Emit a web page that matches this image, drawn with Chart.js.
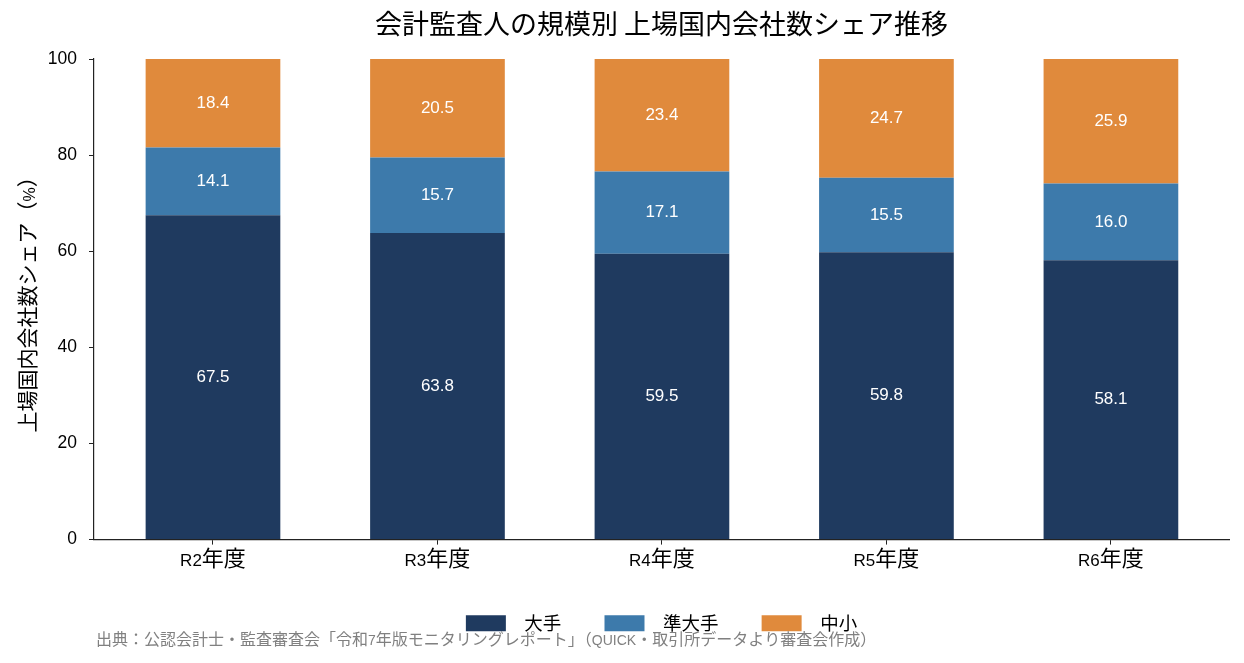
<!DOCTYPE html>
<html>
<head>
<meta charset="utf-8">
<script src="https://cdn.jsdelivr.net/npm/chart.js@4"></script>
<style>
  html, body { margin: 0; padding: 0; background: #fff; }
  #wrap { width: 1244px; height: 663px; position: relative; }
</style>
</head>
<body>
<div id="wrap"><canvas id="shareChart"></canvas></div>
<script>
const categories = ['R2年度', 'R3年度', 'R4年度', 'R5年度', 'R6年度'];
const seriesNames = ['大手', '準大手', '中小'];
const ootePct = [67.5, 63.8, 59.5, 59.8, 58.1];
const junOotePct = [14.1, 15.7, 17.1, 15.5, 16.0];
const chushoPct = [18.4, 20.5, 23.4, 24.7, 25.9];
const yTicks = [0, 20, 40, 60, 80, 100];
const sourceNote = '出典：公認会計士・監査審査会「令和7年版モニタリングレポート」（QUICK・取引所データより審査会作成）';

const FONT = "'Liberation Sans', Arial, 'Noto Sans CJK JP', sans-serif";
const CJK_FONT = "'Noto Sans CJK JP', sans-serif";
const COLORS = ['#1f3a5f', '#3d7aab', '#e08a3c'];
const LEGEND_PAD = 20;

// in the reference the Japanese glyphs come out bigger than the latin ones
// in the same label, so mixed strings get drawn run by run.
// latin px size -> japanese px size
const CJK_SIZE = { 17: 22, 16: 21, 14: 16 };

const canvas = document.getElementById('shareChart');
const rawCtx = canvas.getContext('2d');
const origFill = rawCtx.fillText.bind(rawCtx);
const origMeasure = rawCtx.measureText.bind(rawCtx);

function mixedRuns(text) {
  text = String(text);
  if (!/[^\x00-\x7f]/.test(text)) return null;
  const m = /(\d+(?:\.\d+)?)px/.exec(rawCtx.font);
  const size = m ? parseFloat(m[1]) : 0;
  if (!CJK_SIZE[size]) return null;
  const base = rawCtx.font;
  const cjk = base.replace(/\d+(?:\.\d+)?px.*$/, CJK_SIZE[size] + 'px ' + CJK_FONT);
  const runs = (text.match(/[\x00-\x7f]+|[^\x00-\x7f]+/g) || []).map(t => {
    const font = /[^\x00-\x7f]/.test(t) ? cjk : base;
    rawCtx.font = font;
    const w = origMeasure(t).width;
    return { t, font, w };
  });
  rawCtx.font = base;
  return { runs, base, size, width: runs.reduce((s, r) => s + r.w, 0) };
}

rawCtx.fillText = function (text, x, y, maxWidth) {
  const mr = mixedRuns(text);
  if (!mr) return maxWidth === undefined ? origFill(text, x, y) : origFill(text, x, y, maxWidth);
  const align = rawCtx.textAlign, baseline = rawCtx.textBaseline;
  rawCtx.textBaseline = 'alphabetic';
  const fm = origMeasure('M');
  const A = fm.fontBoundingBoxAscent, D = fm.fontBoundingBoxDescent;
  let ya = y;
  if (baseline === 'middle') ya = y + (A - D) / 2;
  else if (baseline === 'top' || baseline === 'hanging') ya = y + A;
  else if (baseline === 'bottom' || baseline === 'ideographic') ya = y - D;
  let xs = x;
  if (align === 'center') xs = x - mr.width / 2;
  else if (align === 'right' || align === 'end') xs = x - mr.width;
  rawCtx.textAlign = 'left';
  mr.runs.forEach(r => {
    rawCtx.font = r.font;
    origFill(r.t, xs, ya);
    xs += r.w;
  });
  rawCtx.font = mr.base;
  rawCtx.textAlign = align;
  rawCtx.textBaseline = baseline;
};
rawCtx.measureText = function (text) {
  const mr = mixedRuns(text);
  if (!mr) return origMeasure(text);
  return { width: mr.width, actualBoundingBoxAscent: mr.size, actualBoundingBoxDescent: 0 };
};

function toPoints(arr) {
  return arr.map((v, i) => ({ x: i, y: v }));
}

// title and legend sit centred over the plot area, not the whole canvas
const centreOnPlot = {
  id: 'centreOnPlot',
  afterLayout(chart) {
    const mid = (chart.chartArea.left + chart.chartArea.right) / 2;
    const t = chart.titleBlock;
    if (t) {
      const dx = mid - (t.left + t.right) / 2;
      t.left += dx; t.right += dx;
    }
    const lg = chart.legend;
    if (lg) {
      const dx = mid - (lg.left + lg.right) / 2;
      lg.left += dx; lg.right += dx;
    }
  }
};

const segmentLabels = {
  id: 'segmentLabels',
  afterDatasetsDraw(chart) {
    const ctx = chart.ctx;
    ctx.save();
    ctx.fillStyle = '#ffffff';
    ctx.font = '17px ' + FONT;
    ctx.textAlign = 'center';
    ctx.textBaseline = 'middle';
    chart.data.datasets.forEach((ds, di) => {
      chart.getDatasetMeta(di).data.forEach((bar, i) => {
        const v = ds.data[i].y;
        ctx.fillText(v.toFixed(1), bar.x, (bar.y + bar.base) / 2);
      });
    });
    ctx.restore();
  }
};

const sourceText = {
  id: 'sourceText',
  afterDraw(chart) {
    const ctx = chart.ctx;
    ctx.save();
    ctx.fillStyle = '#808080';
    ctx.font = '14px ' + FONT;
    ctx.textAlign = 'left';
    ctx.textBaseline = 'middle';
    ctx.fillText(sourceNote, 96, 640);
    ctx.restore();
  }
};

const datasets = [ootePct, junOotePct, chushoPct].map((arr, k) => ({
  label: seriesNames[k],
  data: toPoints(arr),
  backgroundColor: COLORS[k],
  borderWidth: 0,
  barPercentage: 0.6,
  categoryPercentage: 1.0
}));

new Chart(canvas, {
  type: 'bar',
  data: { datasets },
  options: {
    responsive: true,
    maintainAspectRatio: false,
    animation: false,
    layout: { padding: { left: 16, right: 15, top: 0, bottom: 20.5 } },
    plugins: {
      title: {
        display: true,
        text: '会計監査人の規模別 上場国内会社数シェア推移',
        color: '#000',
        font: { family: CJK_FONT, size: 27, weight: 'normal' },
        padding: { top: 8, bottom: 18.6 }
      },
      legend: {
        position: 'bottom',
        labels: {
          color: '#000',
          font: { family: CJK_FONT, size: 18.5 },
          boxWidth: 40,
          boxHeight: 16,
          padding: LEGEND_PAD,
          generateLabels(chart) {
            const items = Chart.defaults.plugins.legend.labels.generateLabels(chart);
            return items.map((item, i) => ({
              ...item,
              text: '\u2002' + item.text + (i < items.length - 1 ? '\u2003\u2005' : '')
            }));
          }
        }
      },
      tooltip: { enabled: false }
    },
    scales: {
      x: {
        type: 'linear',
        stacked: true,
        min: -0.53,
        max: 4.526,
        offset: false,
        afterBuildTicks(scale) {
          scale.ticks = categories.map((_, i) => ({ value: i }));
        },
        afterFit(scale) { scale.height += 17; },
        ticks: {
          color: '#000',
          font: { family: FONT, size: 17 },
          padding: 6,
          autoSkip: false,
          maxRotation: 0,
          callback: (v) => categories[v]
        },
        grid: { display: true, offset: false, drawOnChartArea: false, drawTicks: true, tickLength: 5, color: '#222' },
        border: { display: true, color: '#222', width: 1.2 }
      },
      y: {
        stacked: true,
        min: 0,
        max: 100,
        afterBuildTicks(scale) {
          scale.ticks = yTicks.map(v => ({ value: v }));
        },
        afterFit(scale) { scale.width = 78; },
        ticks: {
          color: '#000',
          font: { family: FONT, size: 17.5 },
          padding: 12
        },
        title: {
          display: true,
          text: '上場国内会社数シェア（%）',
          color: '#000',
          font: { family: FONT, size: 16 },
          padding: { bottom: 2 }
        },
        grid: { display: true, drawOnChartArea: false, drawTicks: true, tickLength: 5, color: '#222' },
        border: { display: true, color: '#222', width: 1.2 }
      }
    }
  },
  plugins: [centreOnPlot, segmentLabels, sourceText]
});
</script>
</body>
</html>
